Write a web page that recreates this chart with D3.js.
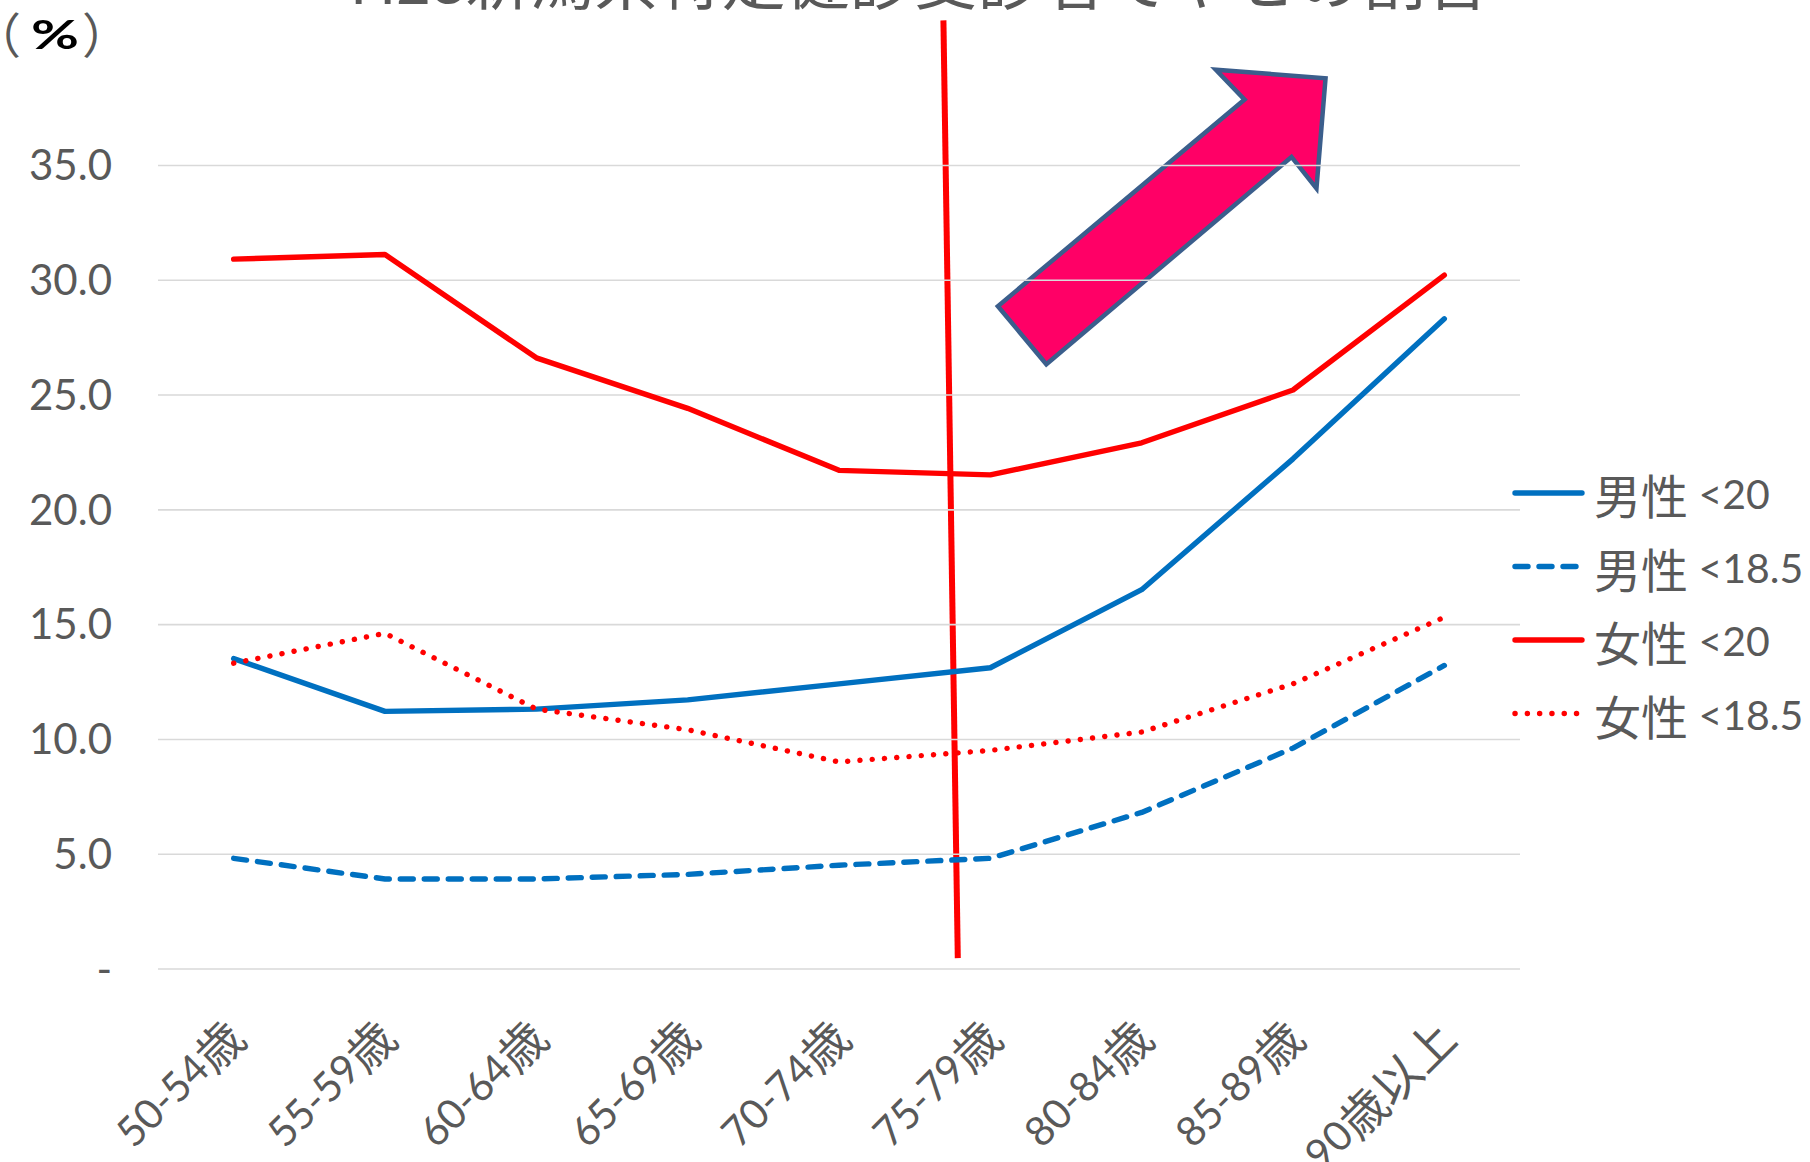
<!DOCTYPE html>
<html>
<head>
<meta charset="utf-8">
<script src="https://cdn.jsdelivr.net/npm/d3@7"></script>
<style>
  html, body { margin: 0; padding: 0; background: #ffffff; }
  svg { display: block; }
</style>
</head>
<body>
<svg id="chart" width="1810" height="1162"></svg>
<script>
// ---- data ----
const categories = ["50-54歳", "55-59歳", "60-64歳", "65-69歳", "70-74歳", "75-79歳", "80-84歳", "85-89歳", "90歳以上"];
const male20    = [13.5, 11.2, 11.3, 11.7, 12.4, 13.1, 16.5, 22.2, 28.3];
const male185   = [4.8, 3.9, 3.9, 4.1, 4.5, 4.8, 6.8, 9.6, 13.2];
const female20  = [30.9, 31.1, 26.6, 24.4, 21.7, 21.5, 22.9, 25.2, 30.2];
const female185 = [13.3, 14.6, 11.3, 10.4, 9.0, 9.5, 10.3, 12.4, 15.3];
const seriesNames = ["男性 <20", "男性 <18.5", "女性 <20", "女性 <18.5"];
const yTicks = [0, 5, 10, 15, 20, 25, 30, 35];
const titleText = "H28新潟県特定健診受診者でやせの割合";
const unitParts = ["（", "%", "）"];

// hand-drawn annotations, given as (category index, value) pairs
const markerLine = [[4.69, 41.3], [4.785, 0.45]];
const trendArrow = [[5.05, 28.85], [5.37, 26.32], [6.99, 35.35], [7.155, 33.98],
                    [7.215, 38.78], [6.49, 39.15], [6.68, 37.85]];

// ---- layout ----
const plot = { left: 158, right: 1520, top: 165, bottom: 968.5 };
const GREY = "#595959";
const LATIN = "Lato, 'Noto Sans CJK JP', sans-serif";
const CJK = "'Noto Sans CJK JP', sans-serif";

const svg = d3.select("#chart");

const x = d3.scalePoint().domain(categories).range([plot.left, plot.right]).padding(0.5);
const y = d3.scaleLinear().domain([0, 35]).range([plot.bottom, plot.top]);
const xi = d3.scaleLinear().domain([0, categories.length - 1])
  .range([x(categories[0]), x(categories[categories.length - 1])]);

const series = [
  { name: seriesNames[0], values: male20,    color: "#0070C0", dash: null },
  { name: seriesNames[1], values: male185,   color: "#0070C0", dash: "13,11" },
  { name: seriesNames[2], values: female20,  color: "#FF0000", dash: null },
  { name: seriesNames[3], values: female185, color: "#FF0000", dash: "0.1,12.2" }
];

// text helper: Latin runs and CJK runs at their own sizes
function mixedText(sel, str, latinSize, cjkSize) {
  const runs = str.match(/[\u3000-\u9fff\uff00-\uffef]+|[^\u3000-\u9fff\uff00-\uffef]+/g) || [];
  runs.forEach(r => {
    const isCjk = /[\u3000-\u9fff\uff00-\uffef]/.test(r);
    sel.append("tspan")
      .attr("font-family", isCjk ? CJK : LATIN)
      .attr("font-size", isCjk ? cjkSize : latinSize)
      .text(r);
  });
}

// ink extents of a string, for placing glyphs by their visible edge
const measureCtx = document.createElement("canvas").getContext("2d");
function inkLeft(str, font) {
  measureCtx.font = font;
  return -measureCtx.measureText(str).actualBoundingBoxLeft;
}

// ---- annotations (behind the chart layer) ----
const ann = svg.append("g").attr("class", "annotations");
ann.append("polygon")
  .attr("points", trendArrow.map(p => [xi(p[0]), y(p[1])].join(",")).join(" "))
  .attr("fill", "#FF0066")
  .attr("stroke", "#3B5E8C")
  .attr("stroke-width", 4.5)
  .attr("stroke-linejoin", "miter");
ann.append("line")
  .attr("x1", xi(markerLine[0][0])).attr("y1", y(markerLine[0][1]))
  .attr("x2", xi(markerLine[1][0])).attr("y2", y(markerLine[1][1]))
  .attr("stroke", "#FF0000")
  .attr("stroke-width", 6);

// ---- title (runs off the top edge) ----
svg.append("text")
  .attr("x", 920).attr("y", 4)
  .attr("text-anchor", "middle")
  .attr("fill", GREY)
  .call(t => mixedText(t, titleText, 60, 64));

// ---- unit label （%） ----
const parenSize = 48;
const parenFont = parenSize + "px 'Noto Sans CJK JP'";
const unitG = svg.append("g").attr("class", "unit");
unitG.append("text")
  .attr("x", 6 - inkLeft(unitParts[0], parenFont)).attr("y", 32)
  .attr("dominant-baseline", "central")
  .attr("font-family", CJK).attr("font-size", parenSize).attr("fill", GREY)
  .text(unitParts[0]);
unitG.append("text")
  .attr("x", 31).attr("y", 34)
  .attr("dominant-baseline", "central")
  .attr("font-family", LATIN).attr("font-size", 40).attr("font-weight", "bold")
  .attr("textLength", 48).attr("lengthAdjust", "spacingAndGlyphs")
  .attr("fill", "#000")
  .text(unitParts[1]);
unitG.append("text")
  .attr("x", 84 - inkLeft(unitParts[2], parenFont)).attr("y", 32)
  .attr("dominant-baseline", "central")
  .attr("font-family", CJK).attr("font-size", parenSize).attr("fill", GREY)
  .text(unitParts[2]);

// ---- y axis with gridlines ----
const yAxis = d3.axisLeft(y)
  .tickValues(yTicks)
  .tickSize(-(plot.right - plot.left))
  .tickPadding(plot.left - 112)
  .tickFormat(v => v === 0 ? "-" : d3.format(".1f")(v));

const gy = svg.append("g")
  .attr("transform", `translate(${plot.left},0)`)
  .call(yAxis);
gy.select(".domain").remove();
gy.selectAll(".tick line").attr("stroke", "#D9D9D9").attr("stroke-width", 1.6);
gy.selectAll(".tick text")
  .attr("fill", GREY)
  .attr("font-family", LATIN)
  .attr("font-size", 42)
  .attr("dy", "0.35em");

// ---- x axis labels (rotated) ----
const gx = svg.append("g").attr("class", "x-labels");
categories.forEach(c => {
  const t = gx.append("text")
    .attr("transform", `translate(${x(c)},1027) rotate(-45)`)
    .attr("text-anchor", "end")
    .attr("dominant-baseline", "central")
    .attr("fill", GREY);
  mixedText(t, c, 41, 47);
});

// ---- series lines ----
const line = d3.line()
  .x((d, i) => x(categories[i]))
  .y(d => y(d));

svg.append("g").attr("class", "series")
  .selectAll("path")
  .data(series)
  .join("path")
  .attr("d", d => line(d.values))
  .attr("fill", "none")
  .attr("stroke", d => d.color)
  .attr("stroke-width", 5.4)
  .attr("stroke-linejoin", "round")
  .attr("stroke-linecap", "round")
  .attr("stroke-dasharray", d => d.dash);

// ---- legend ----
const legend = svg.append("g").attr("class", "legend");
const legendTop = 493, legendStep = 73.5;
series.forEach((s, i) => {
  const ly = legendTop + i * legendStep;
  legend.append("line")
    .attr("x1", 1515).attr("x2", 1582)
    .attr("y1", ly).attr("y2", ly)
    .attr("stroke", s.color)
    .attr("stroke-width", 5.4)
    .attr("stroke-linecap", "round")
    .attr("stroke-dasharray", s.dash);
  const t = legend.append("text")
    .attr("x", 1594).attr("y", ly)
    .attr("dominant-baseline", "central")
    .attr("fill", GREY);
  mixedText(t, s.name, 41, 47);
});
</script>
</body>
</html>
